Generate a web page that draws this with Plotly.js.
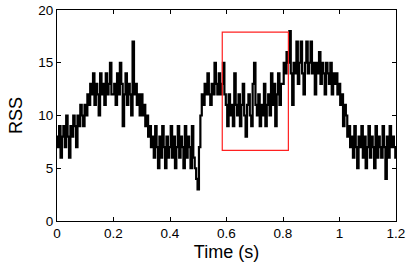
<!DOCTYPE html>
<html><head><meta charset="utf-8">
<script src="https://cdn.plot.ly/plotly-3.0.1.min.js"></script>
<style>html,body{margin:0;padding:0;background:#fff}#c{width:407px;height:271px}</style>
</head><body><div id="c"></div>
<script>
const dt = 0.005;
const rss = [
 8,7,9,6,8,9,7,10,8,6,9,8,10,9,7,10,9,11,10,9,
 11,10,12,11,13,12,14,11,13,12,10,14,12,13,11,14,12,13,15,12,
 12,13,11,14,12,15,13,9,12,14,11,13,12,10,17,12,13,11,12,10,
 12,10,11,9,10,8,9,7,8,6,9,7,5,8,6,9,7,5,8,6,
 7,9,6,8,5,7,9,6,8,7,5,9,6,8,7,5,9,6,5,4,
 3,7,10,12,11,13,12,14,12,11,13,12,15,13,12,14,12,13,15,12,
 11,9,12,10,11,9,14,11,10,12,9,11,13,10,8,11,12,10,9,13,
 15,11,10,12,9,11,10,13,9,11,12,10,14,11,13,9,12,14,11,13,
 13,15,14,16,15,18,14,11,15,14,17,13,15,17,14,12,15,17,14,15,
 17,14,15,12,15,14,16,13,15,14,12,15,14,13,15,12,14,13,14,12,
 13,11,12,9,11,10,8,9,7,8,6,9,7,5,8,7,9,6,8,5,
 7,9,6,8,7,5,9,6,8,7,6,9,7,4,8,6,9,7,8,7,6
];
const time = rss.map((_, i) => +(i * dt).toFixed(3));
const boxX = [0.585, 0.819];
const boxY = [6.7, 17.9];
const xTicks = [0, 0.2, 0.4, 0.6, 0.8, 1, 1.2];
const yTicks = [0, 5, 10, 15, 20];

const font = {family: 'Liberation Sans, Arial, sans-serif', color: '#000'};
Plotly.newPlot('c', [{
  x: time, y: rss, type: 'scatter', mode: 'lines',
  line: {color: '#000', width: 2.2, shape: 'hvh'}, hoverinfo: 'skip'
}], {
  width: 407, height: 271,
  margin: {l: 57, r: 11, t: 10, b: 50},
  paper_bgcolor: '#fff', plot_bgcolor: '#fff',
  showlegend: false,
  font: Object.assign({size: 13}, font),
  xaxis: {
    range: [0, 1.2], tickvals: xTicks, ticktext: xTicks.map(String),
    ticks: 'inside', ticklen: 4, tickcolor: '#000', tickwidth: 1,
    showline: true, linecolor: '#000', linewidth: 1, mirror: 'ticks',
    showgrid: false, zeroline: false,
    tickfont: Object.assign({size: 13.5}, font),
    title: {text: 'Time (s)', font: Object.assign({size: 18}, font), standoff: 5}
  },
  yaxis: {
    range: [0, 20], tickvals: yTicks, ticktext: yTicks.map(String),
    ticks: 'inside', ticklen: 4, tickcolor: '#000', tickwidth: 1,
    showline: true, linecolor: '#000', linewidth: 1, mirror: 'ticks',
    showgrid: false, zeroline: false,
    tickfont: Object.assign({size: 13.5}, font),
    title: {text: 'RSS', font: Object.assign({size: 18}, font), standoff: 10}
  },
  shapes: [{
    type: 'rect', xref: 'x', yref: 'y',
    x0: boxX[0], x1: boxX[1], y0: boxY[0], y1: boxY[1],
    line: {color: '#ff2020', width: 1.2}
  }]
}, {staticPlot: true, displayModeBar: false});
</script></body></html>
